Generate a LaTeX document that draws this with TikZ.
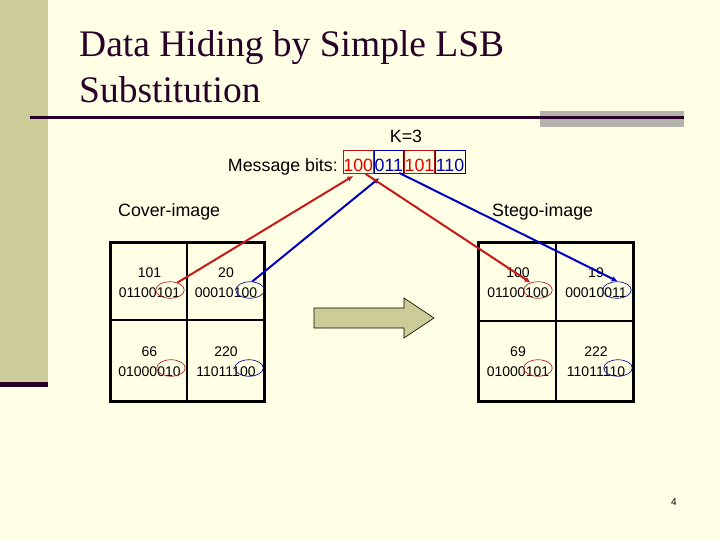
\documentclass[tikz,border=0pt]{standalone}
\usepackage{fontspec}
\setmainfont{Liberation Sans}
\newfontfamily\titlefont{Liberation Serif}
\usetikzlibrary{arrows.meta,calc,shapes.geometric}
\definecolor{bgc}{RGB}{255,255,230}
\definecolor{barc}{RGB}{204,204,153}
\definecolor{darkc}{RGB}{40,0,40}
\definecolor{grayc}{RGB}{180,180,172}
\definecolor{redtxt}{RGB}{225,0,0}
\definecolor{redbox}{RGB}{190,20,20}
\definecolor{bluetxt}{RGB}{0,0,170}
\definecolor{bluebox}{RGB}{0,0,150}
\definecolor{redln}{RGB}{200,25,25}
\definecolor{blueln}{RGB}{0,0,190}
\definecolor{redell}{RGB}{175,40,40}
\definecolor{blueell}{RGB}{20,20,140}
\begin{document}
\begin{tikzpicture}[x=1pt,y=-1pt,
  titletxt/.style={font=\titlefont\fontsize{37.5}{44}\selectfont, text=darkc, anchor=base west, inner sep=0pt},
  bigtxt/.style={font=\fontsize{17.8}{20}\selectfont, inner sep=0pt},
  bitbox/.style={bigtxt, minimum width=29.7pt, minimum height=23pt, text height=21pt, text depth=1pt, line width=0.9pt, anchor=north west},
  celltxt/.style={font=\fontsize{14}{16}\selectfont, anchor=base, inner sep=0pt},
  ell/.style={ellipse, minimum width=28.5pt, minimum height=16.5pt, inner sep=0pt, line width=0.7pt},
  redarrow/.style={draw=redln, line width=2pt, -{Latex[length=6pt,width=5.5pt]}},
  bluearrow/.style={draw=blueln, line width=2pt, -{Latex[length=6pt,width=5.5pt]}},
  gridouter/.style={line width=3pt},
  gridinner/.style={line width=2.5pt}]
\useasboundingbox (0,0) rectangle (720,540);
\fill[bgc] (0,0) rectangle (720,540);
% left bar
\fill[barc] (0,0) rectangle (48,382);
\fill[darkc] (0,382) rectangle (48,387);
% title rule
\fill[grayc] (540,111) rectangle (684,127);
\draw[darkc, line width=3pt] (30,117.5) -- (684,117.5);
% title
\node[titletxt] (t1) at (79,57) {Data Hiding by Simple LSB};
\node[titletxt] (t2) at (79,103) {Substitution};
% K and message
\node[bigtxt, anchor=base] (k) at (406,143) {K=3};
\node[bitbox, draw=redbox, text=redtxt] (b1) at (343,150) {100};
\node[bitbox, draw=bluebox, text=bluetxt] (b2) at (b1.north east) {011};
\node[bitbox, draw=redbox, text=redtxt] (b3) at (b2.north east) {101};
\node[bitbox, draw=bluebox, text=bluetxt] (b4) at (b3.north east) {110};
\node[bigtxt, anchor=base east] (mb) at (338,172) {Message bits:};
% headings
\node[bigtxt, anchor=base west] (cov) at (118,216) {Cover-image};
\node[bigtxt, anchor=base west] (steg) at (492,216) {Stego-image};
% cover grid
\draw[gridouter] (110,242) rectangle (264,401);
\draw[gridinner] (187,242) -- (187,401) (110,320) -- (264,320);
\node[celltxt] (c11a) at (149.5,277) {101};
\node[celltxt] (c11b) at (149.5,297) {01100101};
\node[celltxt] (c12a) at (226,277) {20};
\node[celltxt] (c12b) at (226,297) {00010100};
\node[celltxt] (c21a) at (149.5,356) {66};
\node[celltxt] (c21b) at (149.5,376) {01000010};
\node[celltxt] (c22a) at (226,356) {220};
\node[celltxt] (c22b) at (226,376) {11011100};
\node[ell, draw=redell] (e11) at (170,290) {};
\node[ell, draw=blueell] (e12) at (250,290) {};
\node[ell, draw=redell] (e21) at (171,368) {};
\node[ell, draw=blueell] (e22) at (249,368) {};
% stego grid
\draw[gridouter] (478,242) rectangle (633,401);
\draw[gridinner] (556,242) -- (556,401) (478,321) -- (633,321);
\node[celltxt] (s11a) at (518,277) {100};
\node[celltxt] (s11b) at (518,297) {01100100};
\node[celltxt] (s12a) at (596,277) {19};
\node[celltxt] (s12b) at (596,297) {00010011};
\node[celltxt] (s21a) at (518,356) {69};
\node[celltxt] (s21b) at (518,376) {01000101};
\node[celltxt] (s22a) at (596,356) {222};
\node[celltxt] (s22b) at (596,376) {11011110};
\node[ell, draw=redell] (f11) at (538,290) {};
\node[ell, draw=blueell] (f12) at (617,290) {};
\node[ell, draw=redell] (f21) at (538,368) {};
\node[ell, draw=blueell] (f22) at (618,368) {};
% big arrow
\filldraw[fill=barc, draw=black, line width=0.6pt] (314,308) -- (404,308) -- (404,298) -- (434,318) -- (404,338) -- (404,328) -- (314,328) -- cycle;
% connectors
\draw[redarrow] (e11.45) -- ($(b1.south)+(-5,2)$);
\draw[bluearrow] (e12.75) -- ($(b2.south)+(-9.5,4)$);
\draw[redarrow] ($(b1.south east)+(-8,0)$) -- (f11.135);
\draw[bluearrow] ($(b2.south east)+(-5,-1)$) -- (f12.85);
% page number
\node[font=\fontsize{10}{12}\selectfont, anchor=base, inner sep=0pt] (pg) at (674,505) {4};
\end{tikzpicture}
\end{document}
